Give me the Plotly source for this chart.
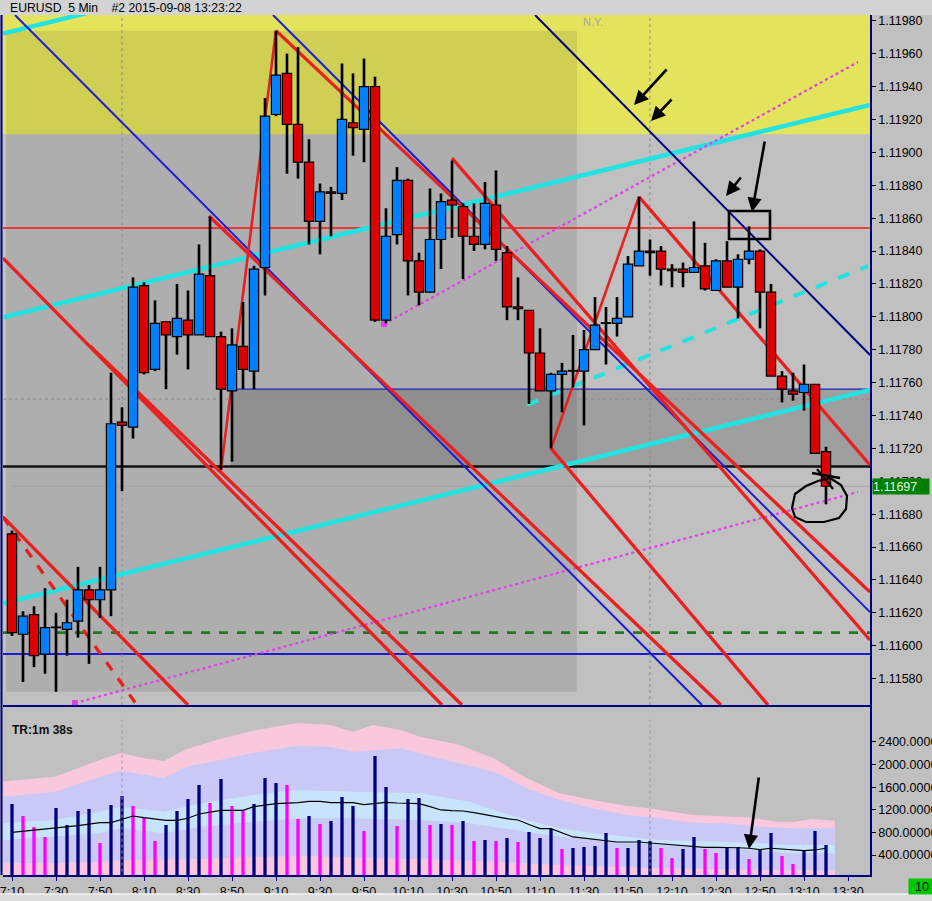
import plotly.graph_objects as go

W, H = 932, 901

# ---------------- data ----------------
opens = [1.11668, 1.11607, 1.11619, 1.11595, 1.11611, 1.11610, 1.11615, 1.11634, 1.11628, 1.11634,
         1.11736, 1.11733, 1.11819, 1.11768, 1.11797, 1.11788, 1.11798, 1.11789, 1.11825, 1.11788,
         1.11755, 1.11782, 1.11767, 1.11830, 1.11923, 1.11948, 1.11917, 1.11894, 1.11858, 1.11876,
         1.11875, 1.11918, 1.11914, 1.11940, 1.11798, 1.11850, 1.11883, 1.11834, 1.11815, 1.11847,
         1.11871, 1.11867, 1.11849, 1.11844, 1.11868, 1.11839, 1.11806, 1.11804, 1.11778, 1.11755,
         1.11765, 1.11767, 1.11767, 1.11780, 1.11796, 1.11796, 1.11800, 1.11831, 1.11840, 1.11840,
         1.11829, 1.11829, 1.11827, 1.11831, 1.11816, 1.11834, 1.11818, 1.11835, 1.11840, 1.11815,
         1.11764, 1.11755, 1.11754, 1.11759, 1.11718]
highs = [1.11670, 1.11621, 1.11624, 1.11635, 1.11620, 1.11628, 1.11648, 1.11637, 1.11648, 1.11766,
         1.11745, 1.11824, 1.11821, 1.11810, 1.11797, 1.11820, 1.11816, 1.11844, 1.11861, 1.11791,
         1.11793, 1.11809, 1.11831, 1.11933, 1.11974, 1.11960, 1.11964, 1.11908, 1.11881, 1.11879,
         1.11954, 1.11948, 1.11957, 1.11946, 1.11866, 1.11891, 1.11884, 1.11839, 1.11878, 1.11875,
         1.11895, 1.11869, 1.11869, 1.11882, 1.11889, 1.11843, 1.11824, 1.11804, 1.11793, 1.11766,
         1.11772, 1.11789, 1.11792, 1.11812, 1.11806, 1.11812, 1.11837, 1.11873, 1.11847, 1.11843,
         1.11832, 1.11833, 1.11858, 1.11845, 1.11835, 1.11846, 1.11838, 1.11855, 1.11841, 1.11820,
         1.11767, 1.11766, 1.11771, 1.11759, 1.11721]
lows = [1.11606, 1.11578, 1.11587, 1.11583, 1.11572, 1.11594, 1.11605, 1.11589, 1.11617, 1.11618,
        1.11694, 1.11726, 1.11765, 1.11767, 1.11756, 1.11777, 1.11768, 1.11789, 1.11788, 1.11707,
        1.11712, 1.11756, 1.11756, 1.11813, 1.11922, 1.11887, 1.11884, 1.11844, 1.11838, 1.11849,
        1.11871, 1.11898, 1.11894, 1.11797, 1.11796, 1.11844, 1.11813, 1.11807, 1.11815, 1.11829,
        1.11848, 1.11823, 1.11840, 1.11841, 1.11834, 1.11798, 1.11798, 1.11747, 1.11755, 1.11720,
        1.11742, 1.11757, 1.11734, 1.11780, 1.11771, 1.11788, 1.11800, 1.11831, 1.11825, 1.11819,
        1.11818, 1.11818, 1.11827, 1.11816, 1.11816, 1.11818, 1.11799, 1.11832, 1.11793, 1.11764,
        1.11748, 1.11749, 1.11743, 1.11717, 1.11686]
closes = [1.11608, 1.11618, 1.11594, 1.11611, 1.11611, 1.11614, 1.11634, 1.11628, 1.11634, 1.11735,
          1.11734, 1.11818, 1.11766, 1.11796, 1.11789, 1.11799, 1.11789, 1.11826, 1.11788, 1.11756,
          1.11783, 1.11768, 1.11829, 1.11922, 1.11947, 1.11917, 1.11894, 1.11858, 1.11876, 1.11875,
          1.11920, 1.11915, 1.11940, 1.11798, 1.11849, 1.11883, 1.11834, 1.11815, 1.11847, 1.11870,
          1.11868, 1.11849, 1.11844, 1.11869, 1.11841, 1.11806, 1.11805, 1.11778, 1.11755, 1.11765,
          1.11767, 1.11767, 1.11780, 1.11795, 1.11796, 1.11799, 1.11832, 1.11840, 1.11839, 1.11829,
          1.11828, 1.11827, 1.11830, 1.11817, 1.11834, 1.11818, 1.11835, 1.11840, 1.11815, 1.11764,
          1.11756, 1.11753, 1.11759, 1.11717, 1.11697]

volumes = [1303, 1090, 896, 719, 1232, 931, 1179, 1214, 612, 1285,
           1444, 1267, 1060, 648, 931, 1179, 1391, 1639, 1320, 1745,
           1267, 1179, 1303, 1763, 1674, 1639, 1037, 1090, 949, 1002,
           1427, 1267, 825, 2152, 1604, 913, 1391, 1409, 931, 949,
           931, 1002, 648, 666, 648, 701, 630, 807, 701, 860,
           506, 524, 542, 559, 789, 524, 524, 666, 648, 524,
           347, 506, 719, 506, 435, 542, 542, 329, 489, 789,
           382, 241, 489, 825, 577]
vol_kind = list("NMMMNNNNMN" "NMMMNNNNMN" "MMNNNMMNMN" "NNMNNMNNMN" "MN"
                "MNMNMNNNMN" "NNNMNNNMMN" "NMMNNMNNMM" "NNN")

ma_values = [802, 820, 842, 855, 872, 895, 919, 945, 972, 972,
             1032, 1090, 1060, 1032, 1014, 1014, 1050, 1126, 1160, 1191,
             1191, 1191, 1255, 1280, 1308, 1318, 1326, 1350, 1350, 1326,
             1326, 1326, 1290, 1310, 1333, 1320, 1308, 1308, 1255, 1197,
             1185, 1179, 1150, 1120, 1080, 1043, 1020, 940, 866, 866,
             790, 719, 700, 678, 655, 630, 630, 630, 612, 595,
             584, 572, 555, 536, 536, 536, 528, 519, 494, 519,
             505, 490, 476, 489, 519]

band_outer_x = [-0.8, 3.9, 8, 9.9, 11.9, 13.8, 15.9, 18.9, 21.9, 25.9, 28.9, 31, 32.8, 35.3, 37.1,
                40.7, 43.8, 46.8, 49.8, 52.8, 55.9, 57.9, 61.9, 64.9, 66.8, 69.6, 70.9, 72.7, 74.8]
band_outer_v = [1701, 1786, 2082, 2205, 2117, 2064, 2276, 2453, 2600, 2736, 2701, 2582, 2701, 2613, 2494,
                2347, 2112, 1758, 1492, 1374, 1267, 1227, 1108, 1090, 1067, 989, 979, 1037, 1007]
band_lav_x = [-0.8, 3.9, 8, 9.9, 13.8, 15.9, 18.9, 21.9, 25.9, 28.9, 31, 35.3, 38.3,
              40.7, 43.8, 46.8, 49.8, 52.8, 55.9, 58.9, 61.9, 64.9, 67.9, 70.9, 74.8]
band_lav_v = [1432, 1520, 1786, 1887, 1768, 1963, 2082, 2205, 2329, 2317, 2228, 2289, 2140,
              2023, 1874, 1581, 1374, 1227, 1108, 1050, 972, 961, 901, 873, 873]
band_lbt_x = [-0.8, 3.9, 8, 9.9, 13.8, 17.1, 21.9, 25.9, 31, 37.1, 41.6, 43.8, 46.8, 49.8, 52.8,
              58.9, 64.9, 70.9, 74.8]
band_lbt_v = [966, 1020, 1166, 1255, 1166, 1315, 1462, 1551, 1520, 1492, 1343, 1197, 1020, 873, 784,
              666, 635, 577, 577]
band_lbb_x = [-0.8, 3.9, 8, 9.9, 13.8, 17.1, 21.9, 25.9, 31, 37.1, 41.6, 46.8, 49.8, 55.9, 64.9, 70.9, 74.8]
band_lbb_v = [666, 724, 784, 873, 784, 901, 989, 1050, 1050, 1020, 961, 812, 724, 607, 519, 430, 430]
band_low_x = [-0.8, 8, 9.9, 15.9, 23, 27, 33, 40.7, 43.8, 49.8, 58.9, 67.9, 74.8]
band_low_v = [253, 271, 312, 324, 370, 382, 342, 312, 281, 223, 165, 135, 122]

time_ticks = ["7:10", "7:30", "7:50", "8:10", "8:30", "8:50", "9:10", "9:30", "9:50", "10:10",
              "10:30", "10:50", "11:10", "11:30", "11:50", "12:10", "12:30", "12:50", "13:10", "13:30"]
price_ticks = [1.1158 + 0.0002 * k for k in range(21)]
vol_ticks = [400, 800, 1200, 1600, 2000, 2400]

# trend lines: (bar0, price0, bar1, price1)
cyan_lines = [(-0.82, 1.119722, 12.55, 1.119941),
              (-0.79, 1.117997, 78.0, 1.119288),
              (-0.79, 1.116258, 78.0, 1.117555)]
cyan_dashed = [(46.82, 1.117464, 77.82, 1.118309)]
magenta_lines = [(5.73, 1.115652, 76.91, 1.116935),
                 (33.82, 1.117956, 76.91, 1.119549)]
red_lines = [(24, 1.11974, 78.0, 1.116327),
             (40, 1.118965, 78.0, 1.116035),
             (57, 1.11873, 78.0, 1.117099),
             (49, 1.11720, 68.73, 1.11564),
             (17.91, 1.118613, 64.45, 1.11564),
             (-0.82, 1.118357, 39.09, 1.11564),
             (7.09, 1.117823, 40.91, 1.11564),
             (-0.82, 1.116783, 16.0, 1.11564)]
red_dashed = [(-0.82, 1.116783, 11.36, 1.11564)]
zigzag = [(19, 1.11707, 24, 1.11974), (49, 1.11720, 57, 1.11873)]
blue_lines = [(0.27, 1.119835, 62.73, 1.11564),
              (23.73, 1.119835, 78.0, 1.116205)]
navy_lines = [(47.55, 1.119835, 78.0, 1.117768)]

level_red = 1.11854
level_black = 1.11709
level_box_top = 1.11756
level_green = 1.11608
level_blue = 1.11595
level_dotted = 1.11750
level_bid = 1.11697
yellow_bottom = 1.11911
session_bars = [10, 58]

# ---------------- geometry ----------------
X0, X1 = -0.818, 78.0
P_BOT, P_TOP = 1.11564, 1.119835
V_BOT, V_TOP = 46, 3037


def fx(px):
    return px / W


def fy(py):
    return 1 - py / H


FONT = "Liberation Sans, Arial, sans-serif"
NAVY = "#000080"

fig = go.Figure()


def add_lines(lines, color, width, dash="solid", start_marker=False):
    for (a0, p0, a1, p1) in lines:
        fig.add_trace(go.Scatter(x=[a0, a1], y=[p0, p1], mode="lines",
                                 line=dict(color=color, width=width, dash=dash),
                                 hoverinfo="skip", showlegend=False, xaxis="x", yaxis="y"))
        if start_marker:
            fig.add_trace(go.Scatter(x=[a0], y=[p0], mode="markers",
                                     marker=dict(symbol="square", size=6, color=color),
                                     hoverinfo="skip", showlegend=False, xaxis="x", yaxis="y"))


add_lines(cyan_lines, "#22e2e2", 4.5)
add_lines(cyan_dashed, "#22e2e2", 4, dash="dash")
add_lines(magenta_lines, "#e040e8", 2.2, dash="dot", start_marker=True)
add_lines(blue_lines, "#1c1cd8", 2)
add_lines(navy_lines, "#000080", 2)
add_lines(red_lines, "#e82020", 3.3)
add_lines(red_dashed, "#e82020", 3.3, dash="dash")
add_lines(zigzag, "#e82020", 2.6)

# ---- candles (overlay axis y4, above the lines) ----
n = len(opens)
idx = list(range(n))
fig.add_trace(go.Bar(x=idx, y=[h - l for h, l in zip(highs, lows)], base=lows, width=0.24,
                     marker=dict(color="black", line=dict(width=0)),
                     hoverinfo="skip", showlegend=False, xaxis="x", yaxis="y4"))
body_base = [min(o, c) for o, c in zip(opens, closes)]
body_h = [max(abs(c - o), 0.000004) for o, c in zip(opens, closes)]
body_col = ["#0080ff" if c > o else ("#dd0000" if c < o else "black") for o, c in zip(opens, closes)]
fig.add_trace(go.Bar(x=idx, y=body_h, base=body_base, width=0.84,
                     marker=dict(color=body_col, line=dict(color="black", width=1.2)),
                     hoverinfo="skip", showlegend=False, xaxis="x", yaxis="y4"))

# ---- volume panel ----
bands = [(band_outer_x, band_outer_v, "#f9c8dc"),
         (band_lav_x, band_lav_v, "#cac8f6"),
         (band_lbt_x, band_lbt_v, "#c8e4fc"),
         (band_lbb_x, band_lbb_v, "#cac8f6"),
         (band_low_x, band_low_v, "#f9c8dc")]
for bx, bv, col in bands:
    fig.add_trace(go.Scatter(x=bx, y=bv, mode="lines", fill="tozeroy", fillcolor=col,
                             line=dict(width=0, color=col), hoverinfo="skip", showlegend=False,
                             xaxis="x2", yaxis="y2"))

fig.add_trace(go.Bar(x=idx, y=volumes, width=0.3,
                     marker=dict(color=[NAVY if k == "N" else "#ff00ff" for k in vol_kind],
                                 line=dict(width=0)),
                     hoverinfo="skip", showlegend=False, xaxis="x2", yaxis="y3"))
fig.add_trace(go.Scatter(x=idx, y=ma_values, mode="lines", line=dict(color="black", width=1.2),
                         hoverinfo="skip", showlegend=False, xaxis="x2", yaxis="y3"))

# ---------------- shapes ----------------
shapes = []
shapes.append(dict(type="rect", xref="paper", yref="paper", x0=0, x1=1, y0=fy(15), y1=1,
                   fillcolor="#d3d3d3", line=dict(width=0), layer="above"))
shapes.append(dict(type="rect", xref="paper", yref="paper", x0=0, x1=1, y0=0, y1=fy(894),
                   fillcolor="#dcdcdc", line=dict(width=0), layer="above"))
shapes.append(dict(type="line", xref="paper", yref="paper", x0=0, x1=1, y0=fy(894), y1=fy(894),
                   line=dict(color="#f4f4f4", width=1.5), layer="above"))
shapes.append(dict(type="rect", xref="x", yref="y", x0=X0, x1=X1, y0=yellow_bottom, y1=P_TOP + 0.0001,
                   fillcolor="#e4e45c", line=dict(width=0), layer="below"))
shapes.append(dict(type="rect", xref="x", yref="y", x0=-0.55, x1=51.36, y0=1.11572, y1=1.11974,
                   fillcolor="rgba(0,0,0,0.09)", line=dict(width=0), layer="below"))
shapes.append(dict(type="rect", xref="x", yref="y", x0=19.9, x1=X1, y0=level_black, y1=level_box_top,
                   fillcolor="rgba(0,0,0,0.17)", line=dict(width=0), layer="below"))


def hline(y, color, width, dash="solid", x0=X0):
    shapes.append(dict(type="line", xref="x", yref="y", x0=x0, x1=X1, y0=y, y1=y,
                       line=dict(color=color, width=width, dash=dash), layer="below"))


hline(level_red, "#ff1010", 1.6)
hline(level_dotted, "#8c8c8c", 1, "dot")
hline(level_bid, "#a4a4a4", 1.2, x0=-0.1)
hline(level_box_top, "#2020b0", 1.2, x0=19.9)
hline(level_black, "#101010", 2.6)
hline(level_green, "#207a20", 2.6, "dash")
hline(level_blue, "#1c1cd8", 1.8)

for sb in session_bars:
    shapes.append(dict(type="line", xref="x", yref="y", x0=sb, x1=sb, y0=P_BOT, y1=P_TOP,
                       line=dict(color="#8c8c8c", width=1, dash="dot"), layer="below"))
    shapes.append(dict(type="line", xref="x2", yref="y2", x0=sb, x1=sb, y0=0, y1=2790,
                       line=dict(color="#9a9a9a", width=1, dash="dot"), layer="above"))

shapes.append(dict(type="line", xref="paper", yref="paper", x0=fx(1.5), x1=fx(1.5), y0=fy(875), y1=fy(15),
                   line=dict(color=NAVY, width=2), layer="above"))

# hand-drawn marks
shapes.append(dict(type="rect", xref="paper", yref="paper", x0=fx(729), x1=fx(770), y0=fy(239), y1=fy(211),
                   line=dict(color="black", width=2.6), fillcolor="rgba(0,0,0,0)", layer="above"))
blob = [(792, 508), (795, 494), (806, 486), (818, 481), (830, 478), (841, 485), (847, 496),
        (846, 509), (839, 518), (824, 522), (806, 522), (795, 517), (792, 508)]
path = "M " + " L ".join(f"{fx(a):.5f},{fy(b):.5f}" for a, b in blob) + " Z"
shapes.append(dict(type="path", xref="paper", yref="paper", path=path,
                   line=dict(color="black", width=2.2), fillcolor="rgba(0,0,0,0)", layer="above"))
shapes.append(dict(type="line", xref="paper", yref="paper", x0=fx(812), x1=fx(840), y0=fy(473), y1=fy(478),
                   line=dict(color="black", width=2.6), layer="above"))
shapes.append(dict(type="line", xref="paper", yref="paper", x0=fx(817), x1=fx(833), y0=fy(469), y1=fy(489),
                   line=dict(color="black", width=2.2), layer="above"))

# ---------------- annotations ----------------
ann = []
ann.append(dict(xref="paper", yref="paper", x=fx(8), y=fy(8), xanchor="left", yanchor="middle",
                text="EURUSD\u00a0\u00a05\u00a0Min\u00a0\u00a0\u00a0\u00a0#2\u00a02015-09-08\u00a013:23:22",
                showarrow=False, font=dict(family=FONT, size=12.2, color="black")))
ann.append(dict(xref="paper", yref="paper", x=fx(593), y=fy(22), xanchor="center", yanchor="middle",
                text="N.Y.", showarrow=False, font=dict(family=FONT, size=11, color="#a6a6a0")))
ann.append(dict(xref="paper", yref="paper", x=fx(10), y=fy(730), xanchor="left", yanchor="middle",
                text="<b>TR:1m 38s</b>", showarrow=False, font=dict(family=FONT, size=12, color="#101010")))
ann.append(dict(xref="paper", yref="y", x=fx(872), y=level_bid, xanchor="left", yanchor="middle",
                text="1.11697", showarrow=False, bgcolor="#008000", borderpad=0, width=56, height=15,
                align="left", font=dict(family=FONT, size=12.5, color="#e6f0e6")))
ann.append(dict(xref="paper", yref="paper", x=fx(908), y=fy(886), xanchor="left", yanchor="middle",
                text="10", showarrow=False, bgcolor="#00c800", borderpad=0, width=26, height=15,
                align="center", font=dict(family=FONT, size=12.5, color="black")))
arrows = [((634, 105), (34, -37)), ((651, 121), (22, -23)), ((726, 196), (16, -20)),
          ((752, 212), (13, -72)), ((749, 849), (10, -73))]
for (hx, hy), (dx, dy) in arrows:
    ann.append(dict(xref="paper", yref="paper", x=fx(hx), y=fy(hy), ax=dx, ay=dy, text="",
                    showarrow=True, arrowhead=2, arrowsize=1.1, arrowwidth=2.6, arrowcolor="black"))

tick_font = dict(family=FONT, size=12.5, color="black")
fig.update_layout(
    width=W, height=H, autosize=False, margin=dict(l=0, r=0, t=0, b=0),
    paper_bgcolor="#c0c0c0", plot_bgcolor="#c0c0c0",
    barmode="overlay", showlegend=False,
    shapes=shapes, annotations=ann,
    xaxis=dict(domain=[fx(3), fx(870)], range=[X0, X1], anchor="y", showline=True, linecolor=NAVY,
               linewidth=1.5, showticklabels=False, ticks="", showgrid=False, zeroline=False),
    yaxis=dict(domain=[fy(705), fy(15)], range=[P_BOT, P_TOP], side="right", anchor="x", showline=True,
               linecolor=NAVY, linewidth=1.5, ticks="outside", ticklen=4, tickcolor="black",
               tickvals=price_ticks, ticktext=[f"{v:.5f}" for v in price_ticks], tickfont=tick_font,
               showgrid=False, zeroline=False, automargin=False),
    yaxis4=dict(overlaying="y", range=[P_BOT, P_TOP], anchor="x", visible=False, showgrid=False,
                zeroline=False),
    xaxis2=dict(domain=[fx(3), fx(870)], range=[X0, X1], anchor="y2", showline=True, linecolor=NAVY,
                linewidth=1.5, ticks="outside", ticklen=4, tickcolor=NAVY,
                tickvals=[4 * k for k in range(len(time_ticks))], ticktext=time_ticks, tickfont=tick_font,
                ticklabeloverflow="allow", showgrid=False, zeroline=False, automargin=False),
    yaxis2=dict(domain=[fy(875), fy(706)], range=[V_BOT, V_TOP], side="right", anchor="x2", showline=True,
                linecolor=NAVY, linewidth=1.5, ticks="outside", ticklen=4, tickcolor="black",
                tickvals=vol_ticks, ticktext=[f"{v}.00000" for v in vol_ticks], tickfont=tick_font,
                ticklabeloverflow="allow", showgrid=False, zeroline=False, automargin=False),
    yaxis3=dict(overlaying="y2", range=[V_BOT, V_TOP], anchor="x2", visible=False, showgrid=False,
                zeroline=False),
)

post = ("document.documentElement.style.margin='0px';document.documentElement.style.overflow='hidden';"
        "document.body.style.margin='0px';document.body.style.overflow='hidden';"
        "var gd=document.getElementById('{plot_id}');gd.style.overflow='hidden';"
        "gd.style.width='932px';gd.style.height='901px';"
        "if(gd.parentNode){gd.parentNode.style.overflow='hidden';gd.parentNode.style.width='932px';}"
        "Array.prototype.forEach.call(gd.querySelectorAll('svg.main-svg'),function(s){s.style.overflow='hidden';});")

fig.write_html("out.html",
               config={"responsive": False, "displayModeBar": False},
               post_script=post)
